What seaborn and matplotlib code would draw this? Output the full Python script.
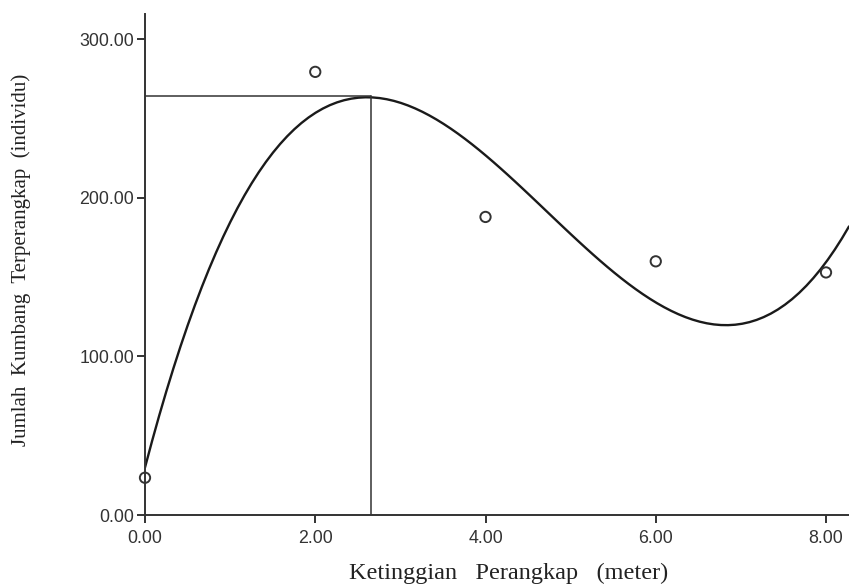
import numpy as np
import pandas as pd
import matplotlib
matplotlib.use("Agg")
import matplotlib.pyplot as plt
import seaborn as sns

# Data
height_m = [0.0, 2.0, 4.0, 6.0, 8.0]
beetles = [23.5, 279.5, 188.0, 160.0, 153.0]
peak_x = 2.66
peak_y = 264.0
x_ticks = [0.0, 2.0, 4.0, 6.0, 8.0]
y_ticks = [0.0, 100.0, 200.0, 300.0]
x_label = "Ketinggian   Perangkap   (meter)"
y_label = "Jumlah  Kumbang  Terperangkap  (individu)"

df = pd.DataFrame({"x": height_m, "y": beetles})

sns.set_style("white")
fig = plt.figure(figsize=(8.49, 5.86), dpi=100)
ax = fig.add_axes([145 / 849, 1 - 515 / 586, 1 - 145 / 849, (515 - 14) / 586])
ax.set_xlim(0, 8.27)
ax.set_ylim(0, 316)

sns.regplot(data=df, x="x", y="y", order=3, ci=None, truncate=False,
            scatter=False, color="#1a1a1a", line_kws={"lw": 1.7}, ax=ax)
sns.scatterplot(data=df, x="x", y="y", marker="o", s=55, facecolors="none",
                edgecolors="#333333", linewidths=1.4, ax=ax, zorder=5, clip_on=False)

ax.plot([0, peak_x], [peak_y, peak_y], color="#333333", lw=1.1)
ax.plot([peak_x, peak_x], [0, peak_y], color="#333333", lw=1.1)

ax.set_xlim(0, 8.27)
ax.set_ylim(0, 316)
ax.set_xticks(x_ticks)
ax.set_yticks(y_ticks)
ax.set_xticklabels([f"{v:.2f}" for v in x_ticks], family="Liberation Sans", fontsize=12.8, color="#333333")
ax.set_yticklabels([f"{v:.2f}" for v in y_ticks], family="Liberation Sans", fontsize=12.8, color="#333333")
ax.tick_params(axis="x", direction="out", length=6, width=1.4, color="#333333", pad=5, bottom=True)
ax.tick_params(axis="y", direction="out", length=6, width=1.4, color="#333333", pad=2, left=True)
ax.set_xlabel(x_label, family="Liberation Serif", fontsize=17.5, color="#222222", labelpad=11)
ax.set_ylabel(y_label, family="Liberation Serif", fontsize=15, color="#222222", labelpad=35)
ax.xaxis.label.set_x(0.516)
ax.yaxis.label.set_y(0.51)

sns.despine(ax=ax, top=True, right=True)
for s in ["left", "bottom"]:
    ax.spines[s].set_linewidth(1.4)
    ax.spines[s].set_color("#333333")

fig.savefig("out.png", dpi=100)
